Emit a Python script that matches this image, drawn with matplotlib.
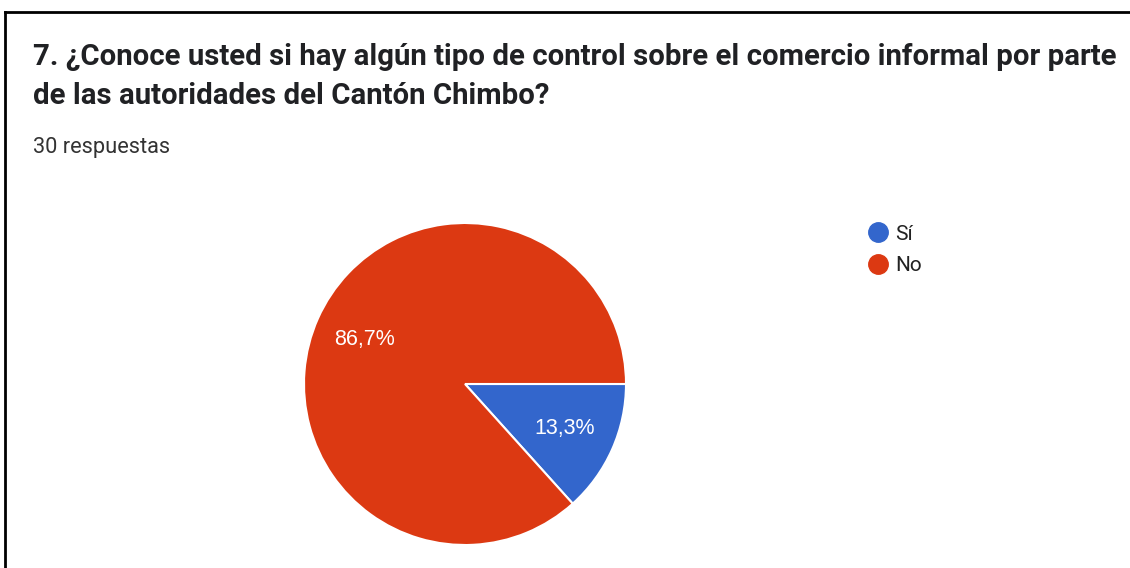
import matplotlib.pyplot as plt
from matplotlib.lines import Line2D

title_lines = ['7. ¿Conoce usted si hay algún tipo de control sobre el comercio informal por parte',
               'de las autoridades del Cantón Chimbo?']
subtitle = '30 respuestas'
labels = ['Sí', 'No']
values = [4, 26]
colors = ['#3366CC', '#DC3912']

W, H = 1130, 568
fig = plt.figure(figsize=(W / 100, H / 100), dpi=100)
fig.patch.set_facecolor('white')

# frame (top and left edges visible in the screenshot)
fig.add_artist(Line2D([5 / W, 5 / W], [0, 1 - 12 / H], color='black', lw=2))
fig.add_artist(Line2D([5 / W, 1], [1 - 12 / H, 1 - 12 / H], color='black', lw=2))

fig.text(33 / W, 1 - 65 / H, title_lines[0], family='Roboto', fontweight='bold',
         fontsize=21.2, color='#202124', va='baseline', ha='left')
fig.text(33 / W, 1 - 104 / H, title_lines[1], family='Roboto', fontweight='bold',
         fontsize=21.2, color='#202124', va='baseline', ha='left')
fig.text(33 / W, 1 - 153 / H, subtitle, family='Roboto', fontsize=15.7,
         color='#333333', va='baseline', ha='left')

cx, cy, r = 465, 384, 161
ax = fig.add_axes([(cx - r) / W, (H - cy - r) / H, 2 * r / W, 2 * r / H])
wedges, texts, autotexts = ax.pie(
    values, colors=colors, startangle=0, counterclock=False, radius=1,
    autopct=lambda p: f'{p:.1f}%'.replace('.', ','), pctdistance=0.68,
    wedgeprops=dict(edgecolor='white', linewidth=1.5),
    textprops=dict(color='white', fontsize=15.5, family='Liberation Sans'))
ax.set_xlim(-1, 1)
ax.set_ylim(-1, 1)
ax.set_aspect('equal')
ax.axis('off')

handles = [Line2D([], [], marker='o', ls='', markersize=14, markerfacecolor=c,
                  markeredgecolor=c) for c in colors]
fig.legend(handles, labels, loc='upper left', bbox_to_anchor=(849 / W, 1 - 206 / H),
           frameon=False, handlelength=1.0, handletextpad=0.3, labelspacing=0.6,
           prop=dict(family='Roboto', size=15), labelcolor='#222222')

fig.savefig('out.png', dpi=100)
